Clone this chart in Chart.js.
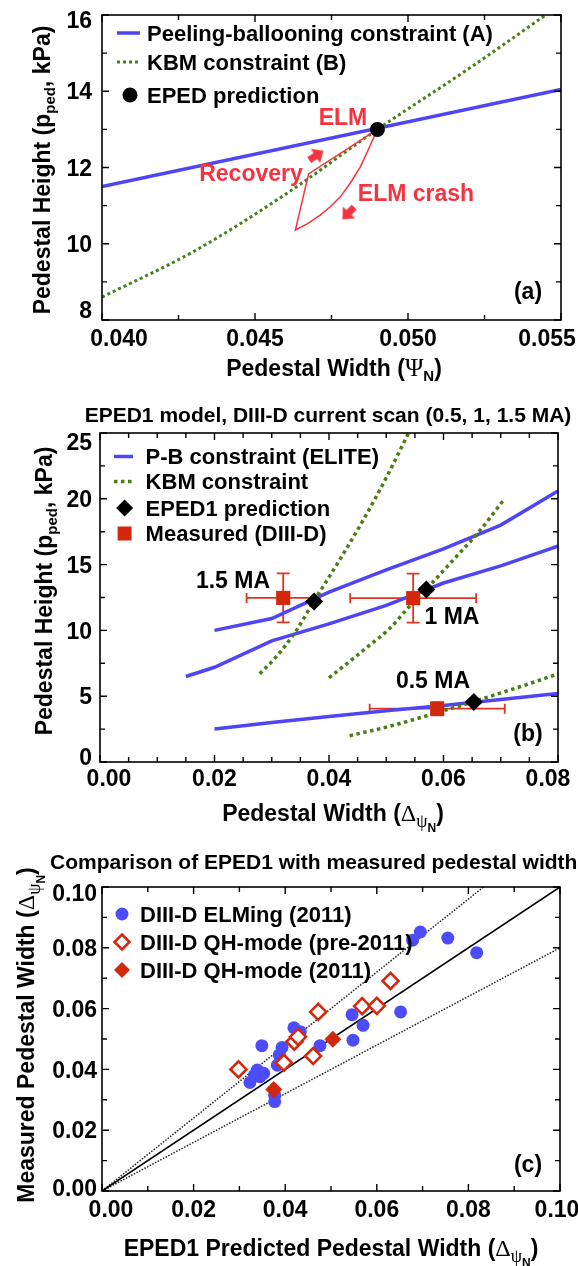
<!DOCTYPE html>
<html>
<head>
<meta charset="utf-8">
<title>EPED pedestal model</title>
<script src="https://cdn.jsdelivr.net/npm/chart.js@4.4.1/dist/chart.umd.min.js"></script>
<style>
  html, body { margin: 0; padding: 0; background: #fff; }
  body { width: 578px; height: 1266px; position: relative; overflow: hidden; }
  canvas { position: absolute; left: 0; }
</style>
</head>
<body>
<canvas id="chart-a" width="578" height="400" style="top:0"></canvas>
<canvas id="chart-b" width="578" height="440" style="top:400px"></canvas>
<canvas id="chart-c" width="578" height="426" style="top:840px"></canvas>
<script>
const SANS = '"Liberation Sans", Arial, Helvetica, sans-serif';
const SERIF = '"Liberation Serif", "DejaVu Serif", serif';
const CAP = 0.358; // cap centre -> baseline, in em

const BLUE = "#4f45f6";
const DOT_BLUE = "#4d4cfa";
const GREEN = "#4a7e17";
const PINK_RED = "#f5333f";
const RED = "#d4280d";
const ERR_RED = "#de3520";

// ---- (a) EPED construction ----
const pbWidthA = [0.040, 0.055];
const pbHeightA = [11.5, 14.05];
const kbmWidthA = [0.040, 0.043, 0.046, 0.049, 0.052, 0.0545];
const kbmHeightA = [8.6, 9.8, 11.3, 13.0, 14.6, 16.0];
const cycleWidthA = [0.0490, 0.04872, 0.04844, 0.04812, 0.04779, 0.04746, 0.04713, 0.04672, 0.04632, 0.04675, 0.0490];
const cycleHeightA = [13.0, 12.5, 12.01, 11.6, 11.23, 10.97, 10.75, 10.53, 10.36, 11.83, 13.0];
const arrowWidthA = [0.04699, 0.04806];
const arrowHeightA = [12.31, 10.81];
const arrowAngleA = [57, 224];
const epedWidthA = [0.049];
const epedHeightA = [13.0];

// ---- (b) DIII-D current scan ----
const pbWidthB = [0.02, 0.03, 0.04, 0.05, 0.06, 0.07, 0.08];
const pb15Height = [10.0, 10.9, 12.9, 14.6, 16.2, 18.0, 20.6];
const pb05Height = [2.5, 3.0, 3.45, 3.9, 4.3, 4.75, 5.2];
const pb10Width = [0.015, 0.02, 0.03, 0.04, 0.05, 0.06, 0.07, 0.08];
const pb10Height = [6.5, 7.2, 9.2, 10.5, 11.9, 13.6, 14.9, 16.4];
const kbm15Width = [0.0279, 0.0308, 0.0343, 0.0372, 0.0415, 0.046, 0.050, 0.0539];
const kbm15Height = [6.7, 8.0, 10.0, 12.1, 15.1, 18.4, 21.6, 25.0];
const kbm10Width = [0.040, 0.0435, 0.047, 0.0505, 0.054, 0.058, 0.062, 0.066, 0.0705];
const kbm10Height = [6.4, 7.6, 8.85, 10.1, 11.8, 13.6, 15.5, 17.4, 19.9];
const kbm05Width = [0.0436, 0.050, 0.055, 0.060, 0.065, 0.070, 0.075, 0.080];
const kbm05Height = [2.0, 2.65, 3.25, 3.9, 4.55, 5.25, 5.95, 6.7];
const eped1WidthB = [0.0374, 0.0570, 0.0653];
const eped1HeightB = [12.2, 13.1, 4.55];
const measWidthB = [0.0320, 0.0547, 0.0589];
const measHeightB = [12.47, 12.45, 4.05];
const measWidthErrB = [0.0064, 0.0110, 0.0118];
const measHeightErrB = [1.86, 1.86, 0.5];

// ---- (c) predicted vs measured width ----
const elmingPred = [0.0678, 0.0695, 0.0755, 0.0818, 0.0652, 0.0546, 0.0570, 0.0548, 0.0476, 0.0419, 0.0433,
  0.0349, 0.0393, 0.0387, 0.0383, 0.0339, 0.0323, 0.0333, 0.0353, 0.0345, 0.0377, 0.0377];
const elmingMeas = [0.0825, 0.0852, 0.0832, 0.0784, 0.0589, 0.0580, 0.0545, 0.0496, 0.0478, 0.0537, 0.0524,
  0.0478, 0.0472, 0.0447, 0.0414, 0.0398, 0.0357, 0.0381, 0.0387, 0.0376, 0.0315, 0.0294];
const qhOldPred = [0.0298, 0.0397, 0.0420, 0.0428, 0.0472, 0.0461, 0.0568, 0.0600, 0.0630];
const qhOldMeas = [0.0400, 0.0422, 0.0491, 0.0507, 0.0589, 0.0444, 0.0608, 0.0609, 0.0691];
const qhNewPred = [0.0375, 0.0504];
const qhNewMeas = [0.0334, 0.0499];
const unityX = [0, 0.1];
const unityY = [0, 0.1];
const plus20X = [0, 0.0833];
const plus20Y = [0, 0.1];
const minus20X = [0, 0.1];
const minus20Y = [0, 0.08];

const bold = (s) => `bold ${s}px ${SANS}`;
const greek = (s) => `${s}px ${SERIF}`;
const pts = (xs, ys) => xs.map((x, i) => ({ x, y: ys[i] }));

Chart.defaults.font.family = SANS;

// small block arrow (pointing up) used as a point style, rotated per point
const arrowImg = document.createElement("canvas");
arrowImg.width = 18;
arrowImg.height = 18;
(function () {
  const g = arrowImg.getContext("2d");
  g.fillStyle = PINK_RED;
  g.beginPath();
  g.moveTo(9, 0);
  g.lineTo(17.5, 9.5);
  g.lineTo(12.5, 9.5);
  g.lineTo(12.5, 17);
  g.lineTo(5.5, 17);
  g.lineTo(5.5, 9.5);
  g.lineTo(0.5, 9.5);
  g.closePath();
  g.fill();
})();

function label(ctx, str, x, y, size, color, align) {
  ctx.font = bold(size);
  ctx.fillStyle = color || "#000";
  ctx.textAlign = align || "center";
  ctx.textBaseline = "alphabetic";
  ctx.fillText(str, x, y + CAP * size);
}

function rich(ctx, parts, cx, cy, size, rotate) {
  ctx.save();
  ctx.translate(cx, cy);
  if (rotate) ctx.rotate(-Math.PI / 2);
  let w = 0;
  parts.forEach((p) => { ctx.font = p.f; w += ctx.measureText(p.t).width; });
  let x = -w / 2;
  ctx.fillStyle = "#000";
  ctx.textAlign = "left";
  ctx.textBaseline = "alphabetic";
  parts.forEach((p) => {
    ctx.font = p.f;
    ctx.fillText(p.t, x, CAP * size + (p.dy || 0));
    x += ctx.measureText(p.t).width;
  });
  ctx.restore();
}

function sampleLine(ctx, x0, x1, y, color, width, dash) {
  ctx.save();
  ctx.strokeStyle = color;
  ctx.lineWidth = width;
  ctx.setLineDash(dash || []);
  ctx.beginPath();
  ctx.moveTo(x0, y);
  ctx.lineTo(x1, y);
  ctx.stroke();
  ctx.restore();
}

function dot(ctx, x, y, r, fill) {
  ctx.beginPath();
  ctx.arc(x, y, r, 0, Math.PI * 2);
  ctx.fillStyle = fill;
  ctx.fill();
}

function diamond(ctx, x, y, r, fill, stroke, lw) {
  ctx.beginPath();
  ctx.moveTo(x, y - r);
  ctx.lineTo(x + r, y);
  ctx.lineTo(x, y + r);
  ctx.lineTo(x - r, y);
  ctx.closePath();
  ctx.fillStyle = fill;
  ctx.fill();
  if (stroke) {
    ctx.strokeStyle = stroke;
    ctx.lineWidth = lw;
    ctx.stroke();
  }
}

// frame, inward ticks on all sides, tick labels taken from the scales
function drawAxes(chart, o) {
  const { ctx, chartArea: a } = chart;
  const xs = chart.scales.x, ys = chart.scales.y;
  const tickSet = (scale, n) => {
    const maj = scale.ticks.map((t) => t.value);
    const min = [];
    for (let i = 0; i < maj.length - 1; i++)
      for (let k = 1; k <= n; k++) min.push(maj[i] + (maj[i + 1] - maj[i]) * k / (n + 1));
    return { maj, min };
  };
  const tx = tickSet(xs, o.minorX), ty = tickSet(ys, o.minorY);
  ctx.save();
  ctx.strokeStyle = "#000";
  ctx.lineWidth = 1.6;
  ctx.strokeRect(a.left, a.top, a.right - a.left, a.bottom - a.top);
  ctx.lineWidth = 1.4;
  ctx.beginPath();
  const xt = (vals, len) => vals.forEach((v) => {
    const p = xs.getPixelForValue(v);
    ctx.moveTo(p, a.bottom); ctx.lineTo(p, a.bottom - len);
    ctx.moveTo(p, a.top); ctx.lineTo(p, a.top + len);
  });
  const yt = (vals, len) => vals.forEach((v) => {
    const p = ys.getPixelForValue(v);
    ctx.moveTo(a.left, p); ctx.lineTo(a.left + len, p);
    ctx.moveTo(a.right, p); ctx.lineTo(a.right - len, p);
  });
  xt(tx.maj, 7); xt(tx.min, 5);
  yt(ty.maj, 7); yt(ty.min, 5);
  ctx.stroke();

  tx.maj.forEach((v, i) => {
    let p = xs.getPixelForValue(v);
    if (i === 0) p += o.nudgeX[0];
    if (i === tx.maj.length - 1) p += o.nudgeX[1];
    label(ctx, o.fmtX(v), p, a.bottom + o.xLabelDy, 23);
  });
  ty.maj.forEach((v, i) => {
    let p = ys.getPixelForValue(v);
    if (i === 0) p += o.nudgeY[0];
    if (i === ty.maj.length - 1) p += o.nudgeY[1];
    label(ctx, o.fmtY(v), a.left - o.yLabelGap, p, 23, "#000", "right");
  });
  ctx.restore();
}

function baseOptions(pad, xr, yr) {
  const axis = (r, fit) => ({
    type: "linear", min: r[0], max: r[1],
    ticks: { display: false, stepSize: r[2] },
    grid: { display: false, drawTicks: false },
    border: { display: false },
    afterFit: fit
  });
  return {
    responsive: false,
    animation: false,
    devicePixelRatio: 1,
    layout: { padding: pad },
    plugins: { legend: { display: false }, tooltip: { enabled: false } },
    scales: {
      x: axis(xr, (s) => { s.height = 0; }),
      y: axis(yr, (s) => { s.width = 0; })
    }
  };
}

const lineSet = (data, color, width, order, dash, smooth) => ({
  data, showLine: true, borderColor: color, borderWidth: width,
  borderDash: dash || [], pointRadius: 0, tension: 0, order,
  cubicInterpolationMode: smooth ? "monotone" : "default"
});

const heightTitle = [
  { t: "Pedestal Height (p", f: bold(23) },
  { t: "ped", f: bold(15), dy: 5 },
  { t: ", kPa)", f: bold(23) }
];
const deltaPsiN = [
  { t: "\u0394", f: greek(24) },
  { t: "\u03c8", f: greek(18), dy: 6 },
  { t: "N", f: bold(12), dy: 11 },
  { t: ")", f: bold(23) }
];

// ---------- (a) ----------
new Chart(document.getElementById("chart-a"), {
  type: "scatter",
  data: {
    datasets: [
      lineSet(pts(pbWidthA, pbHeightA), BLUE, 3.5, 6),
      lineSet(pts(kbmWidthA, kbmHeightA), GREEN, 3, 5, [3, 3], true),
      lineSet(pts(cycleWidthA, cycleHeightA), PINK_RED, 1.5, 4),
      {
        data: pts(arrowWidthA, arrowHeightA), showLine: false, order: 3,
        pointStyle: arrowImg, pointRadius: 9, pointRotation: arrowAngleA
      },
      {
        data: pts(epedWidthA, epedHeightA), showLine: false, order: 1,
        pointStyle: "circle", pointRadius: 7.5,
        pointBackgroundColor: "#000", pointBorderWidth: 0
      }
    ]
  },
  options: baseOptions({ left: 102, right: 17, top: 15, bottom: 80 }, [0.040, 0.055, 0.005], [8, 16, 2]),
  plugins: [{
    id: "panelA",
    afterDraw(chart) {
      const ctx = chart.ctx;
      drawAxes(chart, {
        minorX: 1, minorY: 1, nudgeX: [17, -14], nudgeY: [-10, 5],
        xLabelDy: 17.5, yLabelGap: 10,
        fmtX: (v) => v.toFixed(3), fmtY: (v) => String(Math.round(v))
      });
      sampleLine(ctx, 117, 140, 33, BLUE, 3.5);
      sampleLine(ctx, 117, 140, 62, GREEN, 3, [3, 3]);
      dot(ctx, 130, 95, 7.5, "#000");
      label(ctx, "Peeling-ballooning constraint (A)", 147, 33, 22, "#000", "left");
      label(ctx, "KBM constraint (B)", 147, 62, 22, "#000", "left");
      label(ctx, "EPED prediction", 147, 95, 22, "#000", "left");
      label(ctx, "ELM", 343, 117, 23, PINK_RED);
      label(ctx, "Recovery", 251, 173, 23, PINK_RED);
      label(ctx, "ELM crash", 416, 193, 23, PINK_RED);
      label(ctx, "(a)", 528, 291, 23);
      rich(ctx, [
        { t: "Pedestal Width (", f: bold(23) },
        { t: "\u03a8", f: greek(25) },
        { t: "N", f: bold(15), dy: 5 },
        { t: ")", f: bold(23) }
      ], 334, 368, 23);
      rich(ctx, heightTitle, 42, 170, 23, true);
    }
  }]
});

// ---------- (b) ----------
new Chart(document.getElementById("chart-b"), {
  type: "scatter",
  data: {
    datasets: [
      lineSet(pts(pbWidthB, pb15Height), BLUE, 3.5, 8),
      lineSet(pts(pb10Width, pb10Height), BLUE, 3.5, 8),
      lineSet(pts(pbWidthB, pb05Height), BLUE, 3.5, 8),
      lineSet(pts(kbm15Width, kbm15Height), GREEN, 3.5, 7, [3.5, 3.5], true),
      lineSet(pts(kbm10Width, kbm10Height), GREEN, 3.5, 7, [3.5, 3.5], true),
      lineSet(pts(kbm05Width, kbm05Height), GREEN, 3.5, 7, [3.5, 3.5], true),
      {
        data: pts(measWidthB, measHeightB), showLine: false, order: 2,
        pointStyle: "rect", pointRadius: 10,
        pointBackgroundColor: RED, pointBorderWidth: 0
      },
      {
        data: pts(eped1WidthB, eped1HeightB), showLine: false, order: 1,
        pointStyle: "rectRot", pointRadius: 9,
        pointBackgroundColor: "#000", pointBorderWidth: 0
      }
    ]
  },
  options: baseOptions({ left: 100, right: 20, top: 33, bottom: 78 }, [0, 0.08, 0.02], [0, 25, 5]),
  plugins: [{
    id: "panelB",
    beforeDatasetsDraw(chart) {
      const { ctx, scales: { x, y } } = chart;
      ctx.save();
      ctx.strokeStyle = ERR_RED;
      ctx.lineWidth = 1.8;
      measWidthB.forEach((w, i) => {
        const px = x.getPixelForValue(w), py = y.getPixelForValue(measHeightB[i]);
        const x0 = x.getPixelForValue(w - measWidthErrB[i]);
        const x1 = x.getPixelForValue(w + measWidthErrB[i]);
        const y0 = y.getPixelForValue(measHeightB[i] - measHeightErrB[i]);
        const y1 = y.getPixelForValue(measHeightB[i] + measHeightErrB[i]);
        ctx.beginPath();
        ctx.moveTo(x0, py); ctx.lineTo(x1, py);
        ctx.moveTo(x0, py - 5); ctx.lineTo(x0, py + 5);
        ctx.moveTo(x1, py - 5); ctx.lineTo(x1, py + 5);
        ctx.moveTo(px, y0); ctx.lineTo(px, y1);
        ctx.moveTo(px - 6.5, y0); ctx.lineTo(px + 6.5, y0);
        ctx.moveTo(px - 6.5, y1); ctx.lineTo(px + 6.5, y1);
        ctx.stroke();
      });
      ctx.restore();
    },
    afterDraw(chart) {
      const ctx = chart.ctx;
      drawAxes(chart, {
        minorX: 3, minorY: 1, nudgeX: [9, -10], nudgeY: [-5, 9],
        xLabelDy: 15.5, yLabelGap: 8,
        fmtX: (v) => v.toFixed(2), fmtY: (v) => String(Math.round(v))
      });
      label(ctx, "EPED1 model, DIII-D current scan (0.5, 1, 1.5 MA)", 328, 14, 21);
      sampleLine(ctx, 114, 133, 56.5, BLUE, 3.5);
      sampleLine(ctx, 114, 133, 81.5, GREEN, 3.5, [3.5, 3.5]);
      diamond(ctx, 124.6, 108, 8.5, "#000");
      ctx.fillStyle = RED;
      ctx.fillRect(124.6 - 7, 133.5 - 7, 14, 14);
      label(ctx, "P-B constraint (ELITE)", 145.6, 56.5, 22, "#000", "left");
      label(ctx, "KBM constraint", 145.6, 81.5, 22, "#000", "left");
      label(ctx, "EPED1 prediction", 145.6, 108, 22, "#000", "left");
      label(ctx, "Measured (DIII-D)", 145.6, 133.5, 22, "#000", "left");
      label(ctx, "1.5 MA", 233, 180, 23);
      label(ctx, "1 MA", 452, 216, 23);
      label(ctx, "0.5 MA", 433, 280, 23);
      label(ctx, "(b)", 528, 333, 23);
      rich(ctx, [{ t: "Pedestal Width (", f: bold(23) }].concat(deltaPsiN), 333, 413, 23);
      rich(ctx, heightTitle, 44, 191, 23, true);
    }
  }]
});

// ---------- (c) ----------
new Chart(document.getElementById("chart-c"), {
  type: "scatter",
  data: {
    datasets: [
      lineSet(pts(unityX, unityY), "#000", 1.6, 8),
      lineSet(pts(plus20X, plus20Y), "#222", 1.5, 8, [1.5, 1.5]),
      lineSet(pts(minus20X, minus20Y), "#222", 1.5, 8, [1.5, 1.5]),
      {
        data: pts(elmingPred, elmingMeas), showLine: false, order: 4,
        pointStyle: "circle", pointRadius: 6.5,
        pointBackgroundColor: DOT_BLUE, pointBorderWidth: 0
      },
      {
        data: pts(qhOldPred, qhOldMeas), showLine: false, order: 3,
        pointStyle: "rectRot", pointRadius: 8,
        pointBackgroundColor: "#fff", pointBorderColor: RED, pointBorderWidth: 2.6
      },
      {
        data: pts(qhNewPred, qhNewMeas), showLine: false, order: 2,
        pointStyle: "rectRot", pointRadius: 8.5,
        pointBackgroundColor: RED, pointBorderWidth: 0
      }
    ]
  },
  options: baseOptions({ left: 102, right: 18, top: 47, bottom: 75 }, [0, 0.1, 0.02], [0, 0.1, 0.02]),
  plugins: [{
    id: "panelC",
    afterDraw(chart) {
      const ctx = chart.ctx;
      drawAxes(chart, {
        minorX: 1, minorY: 1, nudgeX: [9, -3], nudgeY: [-3, 6],
        xLabelDy: 18, yLabelGap: 5,
        fmtX: (v) => v.toFixed(2), fmtY: (v) => v.toFixed(2)
      });
      label(ctx, "Comparison of EPED1 with measured pedestal width", 50, 21, 21, "#000", "left");
      dot(ctx, 122, 74, 6.5, DOT_BLUE);
      diamond(ctx, 122, 102, 7.5, "#fff", RED, 2.6);
      diamond(ctx, 122, 130, 8, RED);
      label(ctx, "DIII-D ELMing (2011)", 140, 74, 22, "#000", "left");
      label(ctx, "DIII-D QH-mode (pre-2011)", 140, 102, 22, "#000", "left");
      label(ctx, "DIII-D QH-mode (2011)", 140, 130, 22, "#000", "left");
      label(ctx, "(c)", 528, 324, 23);
      rich(ctx, [{ t: "EPED1 Predicted Pedestal Width (", f: bold(23) }].concat(deltaPsiN), 331, 408, 23);
      rich(ctx, [{ t: "Measured Pedestal Width (", f: bold(23) }].concat(deltaPsiN), 26, 195, 23, true);
    }
  }]
});
</script>
</body>
</html>
